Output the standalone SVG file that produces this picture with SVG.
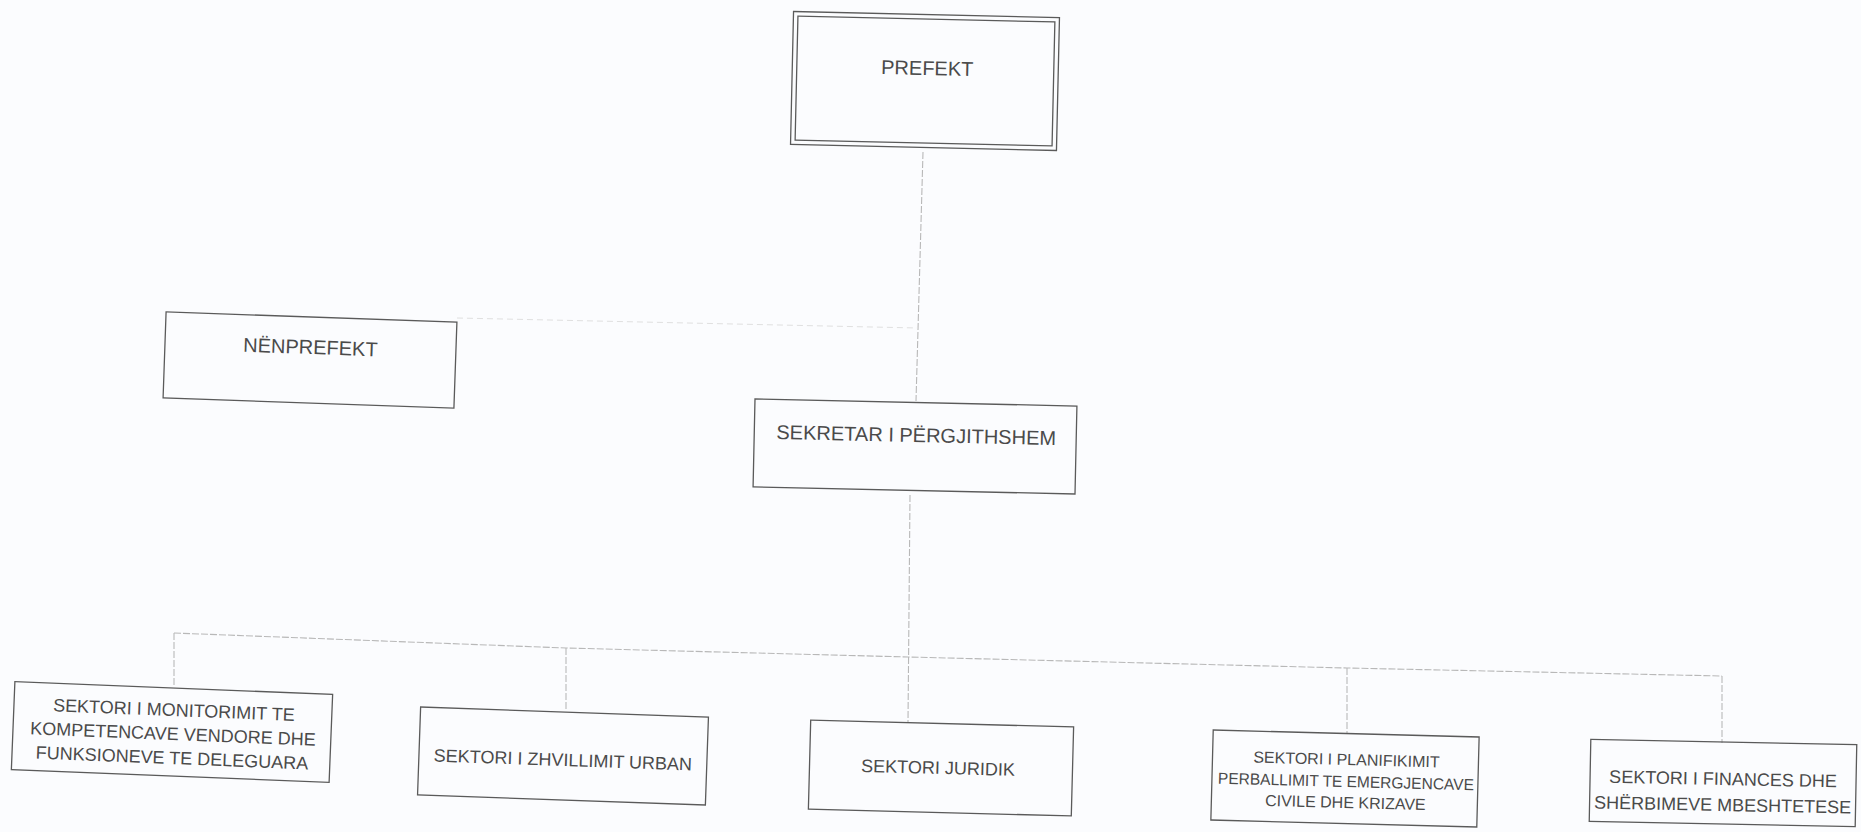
<svg xmlns="http://www.w3.org/2000/svg" width="1861" height="832" viewBox="0 0 1861 832">
<style>
.box{fill:none;stroke:#5a5a5a;stroke-width:1.3}
.lbl{font-family:"Liberation Sans",Arial,sans-serif;fill:#4a4a4a;text-anchor:middle}
.big{font-size:20px}
.mid{font-size:18px}
.sm{font-size:16px}
.con{fill:none;stroke:#b8b8b8;stroke-width:1.1;stroke-dasharray:7 2}
.faint{fill:none;stroke:#e0e0e0;stroke-width:1;stroke-dasharray:6 4}
</style>
<rect x="0" y="0" width="1861" height="832" fill="#fbfcfe"/>
<g id="connectors">
<line class="con" x1="923" y1="152" x2="916" y2="401"/>
<line class="faint" x1="457" y1="318" x2="918" y2="328"/>
<line class="con" x1="910" y1="495" x2="908" y2="722"/>
<polyline class="con" points="174,633 566,648 908,657 1347,668 1722,676"/>
<line class="con" x1="174" y1="633" x2="174" y2="685"/>
<line class="con" x1="566" y1="648" x2="566" y2="710"/>
<line class="con" x1="1347" y1="668" x2="1347" y2="733"/>
<line class="con" x1="1722" y1="676" x2="1722" y2="743"/>
</g>
<g id="prefekt" transform="rotate(1.3 925 81)">
<rect class="box" x="792" y="14.5" width="266" height="133"/>
<rect class="box" x="796.5" y="19" width="257" height="124"/>
<text class="lbl big" x="927" y="75">PREFEKT</text>
</g>
<g id="nenprefekt" transform="rotate(2 310 360)">
<rect class="box" x="164.5" y="317" width="291" height="86"/>
<text class="lbl big" x="310" y="354">NËNPREFEKT</text>
</g>
<g id="sekretar" transform="rotate(1.25 915 446.5)">
<rect class="box" x="754" y="402.5" width="322" height="88"/>
<text class="lbl big" x="916" y="442">SEKRETAR I PËRGJITHSHEM</text>
</g>
<g id="monitorimi" transform="rotate(2.3 172 732)">
<rect class="box" x="13" y="688" width="318" height="88"/>
<text class="lbl mid" x="173" y="716">SEKTORI I MONITORIMIT TE</text>
<text class="lbl mid" x="173" y="740">KOMPETENCAVE VENDORE DHE</text>
<text class="lbl mid" x="173" y="764">FUNKSIONEVE TE DELEGUARA</text>
</g>
<g id="zhvillimi" transform="rotate(2 563 756)">
<rect class="box" x="419" y="712" width="288" height="88"/>
<text class="lbl mid" x="563" y="766">SEKTORI I ZHVILLIMIT URBAN</text>
</g>
<g id="juridik" transform="rotate(1.5 941 768)">
<rect class="box" x="809.5" y="723.5" width="263" height="89"/>
<text class="lbl mid" x="938" y="774">SEKTORI JURIDIK</text>
</g>
<g id="planifikimi" transform="rotate(1.5 1345 778.5)">
<rect class="box" x="1212" y="733.5" width="266" height="90"/>
<text class="lbl sm" x="1346" y="765">SEKTORI I PLANIFIKIMIT</text>
<text class="lbl sm" x="1346" y="787" textLength="256" lengthAdjust="spacingAndGlyphs">PERBALLIMIT TE EMERGJENCAVE</text>
<text class="lbl sm" x="1346" y="808">CIVILE DHE KRIZAVE</text>
</g>
<g id="financa" transform="rotate(1.1 1723 783)">
<rect class="box" x="1590" y="742" width="266" height="82"/>
<text class="lbl mid" x="1723" y="785">SEKTORI I FINANCES DHE</text>
<text class="lbl mid" x="1723" y="811">SHËRBIMEVE MBESHTETESE</text>
</g>
</svg>
